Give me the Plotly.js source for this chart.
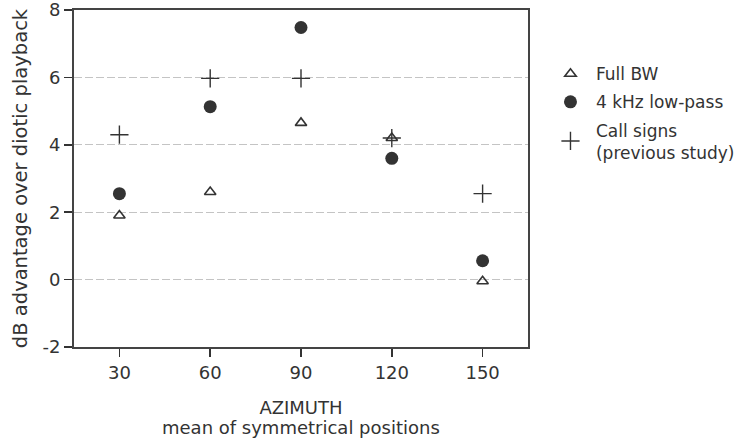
<!DOCTYPE html>
<html><head><meta charset="utf-8">
<script src="https://cdn.plot.ly/plotly-3.0.1.min.js"></script>
<style>body{margin:0;background:#fff}#c{width:738px;height:440px}</style>
</head><body><div id="c"></div>
<script>
const azimuth = [30, 60, 90, 120, 150];
const fullBW = [1.9, 2.6, 4.65, 4.2, -0.05];
const lowPass = [2.55, 5.13, 7.48, 3.6, 0.56];
const callSigns = [4.3, 5.97, 5.97, 4.2, 2.55];
const yTicks = [-2, 0, 2, 4, 6, 8];
const yTickText = ['-2', '0', '2', '4', '6', '8'];
const xTicks = [30, 60, 90, 120, 150];
const xTitle = 'AZIMUTH';
const xSubtitle = 'mean of symmetrical positions';
const yTitle = 'dB advantage over diotic playback';

const ink = '#333';
const traces = [
  {x: azimuth, y: fullBW, name: 'Full BW', mode: 'markers', legendgroup: 'a',
   marker: {symbol: 'triangle-up-open', size: 10, color: ink, line: {width: 1.6, color: ink}}},
  {x: azimuth, y: lowPass, name: '4 kHz low-pass', mode: 'markers', legendgroup: 'b',
   marker: {symbol: 'circle', size: 13, color: ink}},
  {x: azimuth, y: callSigns, name: 'Call signs<br>(previous study)', mode: 'markers', legendgroup: 'c',
   marker: {symbol: 'cross-thin-open', size: 13, color: ink, line: {width: 1.4, color: ink}}}
];
const layout = {
  width: 738, height: 440,
  margin: {l: 74, r: 210, t: 10, b: 93, autoexpand: false},
  paper_bgcolor: '#fff', plot_bgcolor: '#fff',
  font: {family: 'DejaVu Sans, sans-serif', color: ink},
  showlegend: true,
  legend: {x: 1.0374, y: 0.863, xanchor: 'left', yanchor: 'top', font: {size: 17, color: ink},
           tracegroupgap: 3, bgcolor: 'rgba(0,0,0,0)', itemwidth: 41},
  xaxis: {range: [15, 165], tickvals: xTicks, ticks: 'outside', ticklen: 8, tickwidth: 1.5, tickcolor: ink,
          showgrid: false, zeroline: false, showline: true, mirror: true, linecolor: '#444', linewidth: 2,
          tickfont: {size: 18, color: ink}, ticklabeloverflow: 'allow', automargin: false,
          title: {text: xTitle, font: {size: 18, color: ink}, standoff: 20}},
  yaxis: {range: [-2, 8], tickvals: yTicks, ticktext: yTickText, ticks: 'outside', ticklen: 8, tickwidth: 1.5, tickcolor: ink,
          showgrid: true, gridcolor: '#c4c4c4', griddash: '8px,3px', gridwidth: 1, zeroline: false,
          showline: true, mirror: true, linecolor: '#444', linewidth: 2,
          tickfont: {size: 18, color: ink}, ticklabeloverflow: 'allow', automargin: false,
          title: {text: yTitle, font: {size: 19.5, color: ink}, standoff: 10}},
  annotations: [
    {text: xSubtitle, xref: 'paper', yref: 'paper', x: 0.5, y: -0.238, xanchor: 'center', yanchor: 'middle',
     showarrow: false, font: {size: 18, color: ink}}
  ]
};
Plotly.newPlot('c', traces, layout, {displayModeBar: false, staticPlot: true});
</script></body></html>
